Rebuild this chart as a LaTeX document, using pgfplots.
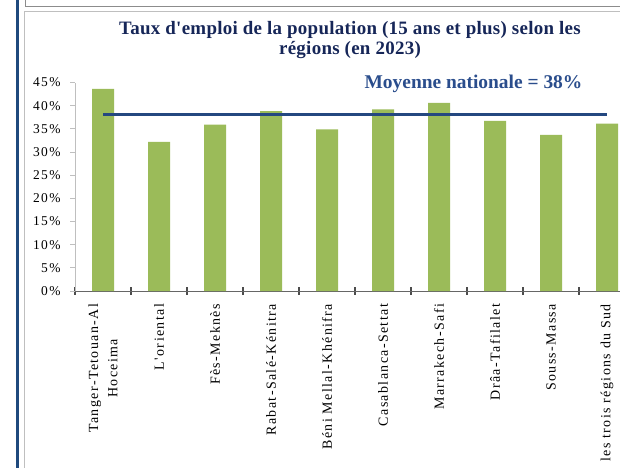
\documentclass[border=0pt]{standalone}
\usepackage{fontspec}
\setmainfont{Liberation Serif}
\newfontfamily\catfont[LetterSpace=10]{Liberation Serif}
\newfontfamily\yfont[LetterSpace=10]{Liberation Serif}
\newfontfamily\titlefont[LetterSpace=1.5]{Liberation Serif}
\usepackage{pgfplots}
\pgfplotsset{compat=1.18}
\definecolor{bargreen}{RGB}{155,187,89}
\definecolor{linenavy}{RGB}{36,72,128}
\definecolor{titlenavy}{RGB}{22,38,88}
\definecolor{moyblue}{RGB}{42,77,140}
\definecolor{leftblue}{RGB}{31,73,125}
\begin{document}
\begin{tikzpicture}
\useasboundingbox (0,0) rectangle (620bp,468bp);
\fill[leftblue] (15.7bp,0) rectangle (19bp,468bp);
\draw[black!45, line width=0.9bp] (25.3bp,468bp) -- (25.3bp,462bp) -- (620bp,462bp);
\draw[black!25, line width=1.2bp] (24.6bp,0) -- (24.6bp,456.5bp) -- (620bp,456.5bp);
\begin{axis}[
  at={(75bp,177bp)}, anchor=south west,
  scale only axis, width=560bp, height=208.5bp,
  xmin=-0.5, xmax=9.5, ymin=0, ymax=45,
  clip=false,
  axis lines=left,
  x axis line style={-, draw=black!60, line width=1bp},
  y axis line style={-, draw=black!25, line width=1bp},
  ytick={0,5,...,45},
  yticklabels={0\%,5\%,10\%,15\%,20\%,25\%,30\%,35\%,40\%,45\%},
  ytick align=outside, major tick length=5bp,
  ytick style={draw=black!25, line width=1bp},
  yticklabel style={font=\yfont\fontsize{13.5}{16}\selectfont, xshift=-6bp},
  xtick={0,...,9},
  xticklabels={{Tanger-Tetouan-Al\\Hoceima},L'oriental,Fès-Meknès,Rabat-Salé-Kénitra,Béni Mellal-Khénifra,Casablanca-Settat,Marrakech-Safi,Drâa-Tafilalet,Souss-Massa,les trois régions du Sud},
  xtick style={draw=none},
  minor xtick={-0.5,0.5,...,9.5},
  minor x tick style={draw=black!70, line width=1.1bp},
  minor tick length=8bp, xtick align=center,
  xticklabel style={yshift=-7bp, rotate=90, anchor=east, align=center, font=\catfont\fontsize{14}{19.5}\selectfont},
  title={Taux d'emploi de la population (15 ans et plus) selon les\\régions (en 2023)},
  title style={at={(axis description cs:0.491,1.175)}, anchor=center, align=center, font=\titlefont\bfseries\fontsize{19}{21}\selectfont, text=titlenavy},
]
\addplot[ybar, bar width=22bp, fill=bargreen, draw=none] coordinates {
  (0,43.6) (1,32.2) (2,35.9) (3,38.8) (4,34.9) (5,39.2) (6,40.6) (7,36.7) (8,33.7) (9,36.1)};
\addplot[linenavy, line width=3bp] coordinates {(0,38) (9,38)};
\node[font=\bfseries\fontsize{19.5}{22}\selectfont, text=moyblue] at (axis description cs:0.7116,0.993) {Moyenne nationale = 38\%};
\end{axis}
\end{tikzpicture}
\end{document}
